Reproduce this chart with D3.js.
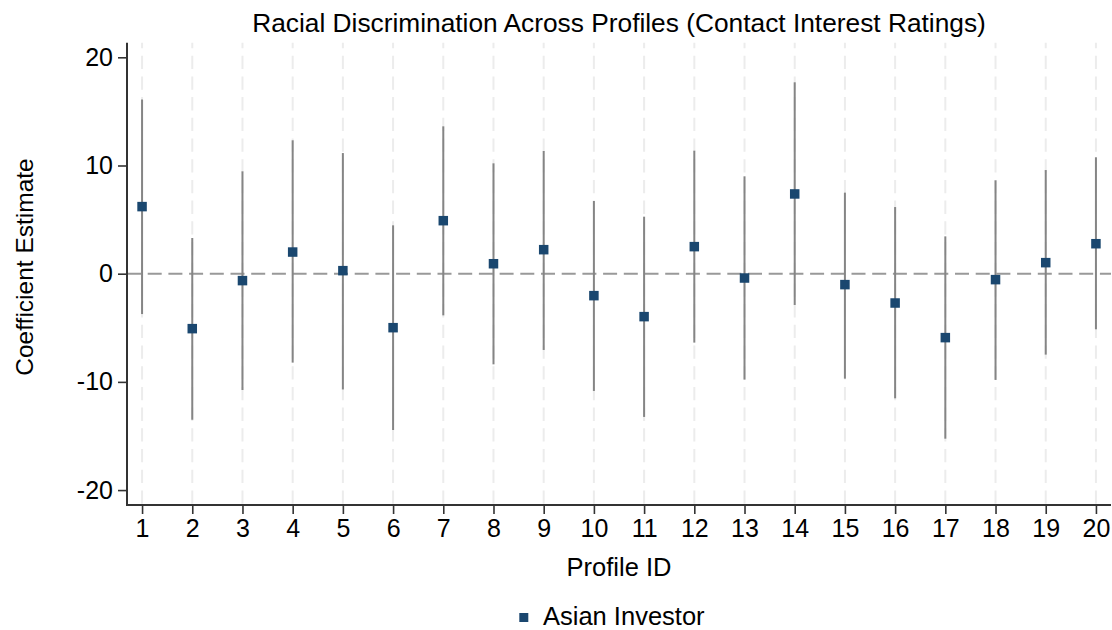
<!DOCTYPE html>
<html>
<head>
<meta charset="utf-8">
<script src="https://cdn.jsdelivr.net/npm/d3@7"></script>
<style>
  html, body { margin: 0; padding: 0; background: #ffffff; }
  svg { display: block; font-family: "Liberation Sans", Arial, Helvetica, sans-serif; }
</style>
</head>
<body>
<svg id="chart" width="1112" height="630"></svg>
<script>
// ---- Data ----
const profiles = [1,2,3,4,5,6,7,8,9,10,11,12,13,14,15,16,17,18,19,20];
const estimates = [6.2, -5.08, -0.64, 2.0, 0.28, -4.99, 4.9, 0.92, 2.22, -2.03,
                   -3.97, 2.5, -0.4, 7.37, -1.01, -2.71, -5.91, -0.55, 1.02, 2.77];
const ciLow = [-3.73, -13.5, -10.75, -8.22, -10.7, -14.45, -3.85, -8.38, -7.05, -10.84,
               -13.24, -6.37, -9.79, -2.89, -9.7, -11.52, -15.25, -9.82, -7.48, -5.14];
const ciHigh = [16.1, 3.3, 9.46, 12.33, 11.15, 4.47, 13.62, 10.2, 11.34, 6.72,
                5.27, 11.37, 9.0, 17.69, 7.49, 6.16, 3.45, 8.63, 9.58, 10.76];
const yTicks = [-20, -10, 0, 10, 20];
const titleText = "Racial Discrimination Across Profiles (Contact Interest Ratings)";
const xTitle = "Profile ID";
const yTitle = "Coefficient Estimate";
const legendLabel = "Asian Investor";

(function () {
// ---- Layout ----
const pLeft = 127, pRight = 1111, pTop = 42.7, pBottom = 505;
const svg = d3.select("#chart");

const x = d3.scaleLinear().domain([0.7, 20.3]).range([pLeft, pRight]);
const y = d3.scaleLinear().domain([-21.38, 21.35]).range([pBottom, pTop]);

const navy = "#1a476f";

// vertical dashed gridlines
svg.append("g").selectAll("line").data(profiles).join("line")
  .attr("x1", d => x(d)).attr("x2", d => x(d))
  .attr("y1", pTop).attr("y2", pBottom)
  .attr("stroke", "#ececec").attr("stroke-width", 2)
  .attr("stroke-dasharray", "13.3,7.4").attr("stroke-dashoffset", 7.7);

// zero reference line
svg.append("line")
  .attr("x1", pLeft).attr("x2", pRight)
  .attr("y1", y(0)).attr("y2", y(0))
  .attr("stroke", "#999999").attr("stroke-width", 2)
  .attr("stroke-dasharray", "14,6.7");

// error bars
svg.append("g").selectAll("line").data(profiles).join("line")
  .attr("x1", d => x(d)).attr("x2", d => x(d))
  .attr("y1", (d, i) => y(ciLow[i])).attr("y2", (d, i) => y(ciHigh[i]))
  .attr("stroke", "#858585").attr("stroke-width", 2);

// markers
const ms = 9.5;
svg.append("g").selectAll("rect").data(profiles).join("rect")
  .attr("x", d => x(d) - ms / 2)
  .attr("y", (d, i) => y(estimates[i]) - ms / 2)
  .attr("width", ms).attr("height", ms)
  .attr("fill", navy);

// axes
const fmt = d => String(d);
const xAxis = d3.axisBottom(x).tickValues(profiles).tickFormat(fmt)
  .tickSize(9).tickPadding(5).tickSizeOuter(0);
const gx = svg.append("g").attr("transform", `translate(0,${pBottom})`).call(xAxis);
gx.select(".domain").attr("stroke", "#333").attr("stroke-width", 2)
  .attr("d", `M${pLeft - 1},0H${pRight}`);
gx.selectAll(".tick line").attr("stroke", "#333").attr("stroke-width", 1.6);
gx.selectAll(".tick text").attr("fill", "#000").attr("font-size", 25)
  .attr("font-family", "Liberation Sans, Arial, sans-serif");

const yAxis = d3.axisLeft(y).tickValues(yTicks).tickFormat(fmt)
  .tickSize(9).tickPadding(5).tickSizeOuter(0);
const gy = svg.append("g").attr("transform", `translate(${pLeft},0)`).call(yAxis);
gy.select(".domain").attr("stroke", "#333").attr("stroke-width", 2)
  .attr("d", `M0,${pTop}V${pBottom + 1}`);
gy.selectAll(".tick line").attr("stroke", "#333").attr("stroke-width", 1.6);
gy.selectAll(".tick text").attr("fill", "#000").attr("font-size", 25)
  .attr("font-family", "Liberation Sans, Arial, sans-serif");

// title
svg.append("text")
  .attr("x", (pLeft + pRight) / 2).attr("y", 32)
  .attr("text-anchor", "middle").attr("font-size", 26.3).attr("fill", "#000")
  .text(titleText);

// axis titles
svg.append("text")
  .attr("x", (pLeft + pRight) / 2).attr("y", 576)
  .attr("text-anchor", "middle").attr("font-size", 25.5).attr("fill", "#000")
  .text(xTitle);

svg.append("text")
  .attr("transform", `translate(33,267) rotate(-90)`)
  .attr("text-anchor", "middle").attr("font-size", 24.5).attr("fill", "#000")
  .text(yTitle);

// legend
const legend = svg.append("g");
legend.append("rect")
  .attr("x", 519.3).attr("y", 613).attr("width", 9).attr("height", 9)
  .attr("fill", navy);
legend.append("text")
  .attr("x", 543).attr("y", 624.5)
  .attr("font-size", 25.5).attr("fill", "#000")
  .text(legendLabel);
})();
</script>
</body>
</html>
